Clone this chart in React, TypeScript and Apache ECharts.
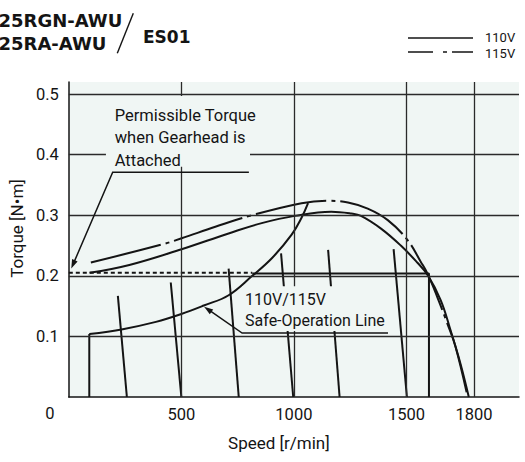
import React, { useEffect, useRef } from "react";
import * as echarts from "echarts";

// ---------- data (speed r/min, torque N·m) ----------
const speedLabelValues = [500, 1000, 1500, 1800];
const speedGridValues = [500, 1000, 1500, 1800];
const torqueGridValues = [0.1, 0.2, 0.3, 0.4, 0.5];
const originLabel = "0";

const torque110V: [number, number][] = [
  [92, 0.205], [269, 0.218], [501, 0.244], [710, 0.27], [857, 0.287],
  [1004, 0.299], [1166, 0.306], [1255, 0.303], [1298, 0.299], [1387, 0.278],
  [1475, 0.25], [1548, 0.222], [1593, 0.202], [1652, 0.16], [1696, 0.11],
  [1740, 0.055], [1777, 0],
];

const torque115V: [number, number][] = [
  [98, 0.222], [416, 0.252], [501, 0.262], [651, 0.281], [813, 0.3],
  [1034, 0.32], [1151, 0.324], [1240, 0.321], [1328, 0.311], [1417, 0.292],
  [1505, 0.259], [1564, 0.223], [1593, 0.204], [1637, 0.165], [1681, 0.122],
  [1718, 0.083], [1772, 0],
];

const safeOperationVertical: [number, number][] = [[91, 0], [91, 0.104]];
const safeOperationCurve: [number, number][] = [
  [91, 0.104], [240, 0.112], [387, 0.124], [500, 0.137], [600, 0.151],
  [710, 0.168], [815, 0.2], [902, 0.229], [990, 0.268], [1034, 0.296],
  [1063, 0.32],
];

const permissibleDotted: [number, number][] = [[0, 0.205], [815, 0.205]];
const permissibleSolid: [number, number][] = [[815, 0.204], [1600, 0.204], [1600, 0]];

const loadLines: [number, number][][] = [
  [[218, 0.167], [258, 0]],
  [[453, 0.189], [500, 0]],
  [[710, 0.212], [755, 0]],
  [[943, 0.237], [997, 0]],
  [[1152, 0.243], [1203, 0]],
  [[1443, 0.244], [1502, 0]],
];

// annotation anchors (data space)
const note1Lines = ["Permissible Torque", "when Gearhead is", "Attached"];
const note1Box: [number, number][] = [[165, 0.497], [805, 0.38]];
const note1Anchor: [number, number] = [204, 0.484];
const note1Leader: [number, number][] = [[800, 0.371], [195, 0.371], [11, 0.212]];

const note2Lines = ["110V/115V", "Safe-Operation Line"];
const note2Box: [number, number][] = [[770, 0.183], [1418, 0.109]];
const note2Anchor: [number, number] = [783, 0.178];
const note2Leader: [number, number][] = [[1418, 0.1056], [770, 0.1056], [601, 0.149]];

const legendNames = ["110V", "115V"];

// ---------- styles ----------
const INK = "#141414";
const GRID_INK = "#2a2a2a";
const PLOT_BG = "#f0f6f4";
const FONT = "Roboto, 'Liberation Sans', sans-serif";
const DASH_DOT = [72, 5, 4, 5];

function lineSeries(name: string, data: [number, number][], extra: any = {}) {
  return {
    name,
    type: "line",
    data,
    symbol: "none",
    silent: true,
    z: 3,
    lineStyle: { color: INK, width: 2, ...(extra.lineStyle || {}) },
    smooth: extra.smooth ?? false,
  };
}

const option: any = {
  animation: false,
  backgroundColor: "#ffffff",
  textStyle: { fontFamily: FONT },
  grid: {
    left: 66,
    right: 6,
    top: 82,
    bottom: 65,
    show: true,
    backgroundColor: PLOT_BG,
    borderWidth: 0,
  },
  xAxis: {
    type: "value",
    min: 0,
    max: 2000,
    name: "Speed [r/min]",
    nameLocation: "middle",
    nameGap: 37,
    nameTextStyle: { fontFamily: FONT, fontSize: 17, color: INK, padding: [0, 30, 0, 0] },
    axisLine: { show: true, lineStyle: { color: INK, width: 1.5 } },
    axisTick: { show: false },
    splitLine: { show: false },
    axisLabel: {
      customValues: speedLabelValues,
      fontFamily: FONT,
      fontSize: 16.5,
      color: INK,
      margin: 9,
      formatter: (v: number) => String(v),
    },
  },
  yAxis: {
    type: "value",
    min: 0,
    max: 0.52,
    name: "Torque [N•m]",
    nameLocation: "middle",
    nameGap: 40,
    nameTextStyle: { fontFamily: FONT, fontSize: 17, color: INK, padding: [0, 0, 0, 22] },
    axisLine: { show: true, lineStyle: { color: INK, width: 1.5 } },
    axisTick: { show: false },
    splitLine: { show: false },
    axisLabel: {
      customValues: torqueGridValues,
      fontFamily: FONT,
      fontSize: 16.5,
      color: INK,
      margin: 10,
      formatter: (v: number) => v.toFixed(1),
    },
  },
  series: [
    {
      name: "grid",
      type: "line",
      data: [],
      silent: true,
      z: 1,
      markLine: {
        silent: true,
        symbol: "none",
        label: { show: false },
        lineStyle: { color: GRID_INK, width: 1.3, type: "solid" },
        emphasis: { disabled: true },
        data: [
          ...speedGridValues.map((v) => ({ xAxis: v })),
          ...torqueGridValues.map((v) => ({ yAxis: v })),
        ],
      },
    },
    lineSeries("110V", torque110V, { smooth: 0.4 }),
    lineSeries("115V", torque115V, { smooth: 0.4, lineStyle: { type: DASH_DOT } }),
    lineSeries("safe-vertical", safeOperationVertical),
    lineSeries("safe-curve", safeOperationCurve, { smooth: 0.4 }),
    lineSeries("permissible-dotted", permissibleDotted, { lineStyle: { type: [4, 3] } }),
    lineSeries("permissible-solid", permissibleSolid),
    ...loadLines.map((l, i) => lineSeries("load" + i, l)),
  ],
};

export default function App() {
  const ref = useRef<HTMLDivElement>(null);
  useEffect(() => {
    if (!ref.current) return;
    const chart = echarts.init(ref.current, null, { renderer: "svg" });
    chart.setOption(option);
    const px = (p: [number, number]) => chart.convertToPixel({ gridIndex: 0 }, p) as number[];

    const textStyle = (text: string, x: number, y: number, size: number, extra: any = {}) => ({
      text,
      x,
      y,
      fill: INK,
      fontFamily: FONT,
      fontSize: size,
      ...extra,
    });

    const boxRect = (b: [number, number][]) => {
      const a = px(b[0]);
      const c = px(b[1]);
      return {
        type: "rect",
        z: 100,
        silent: true,
        shape: { x: a[0], y: a[1], width: c[0] - a[0], height: c[1] - a[1] },
        style: { fill: PLOT_BG },
      };
    };

    const leader = (pts: [number, number][]) => {
      const p = pts.map(px);
      const tip = p[p.length - 1];
      const from = p[p.length - 2];
      const dx = tip[0] - from[0];
      const dy = tip[1] - from[1];
      const len = Math.hypot(dx, dy);
      const ux = dx / len;
      const uy = dy / len;
      const L = 9;
      const W = 3;
      const bx = tip[0] - ux * L;
      const by = tip[1] - uy * L;
      return [
        {
          type: "polyline",
          z: 101,
          silent: true,
          shape: { points: p.slice(0, -1).concat([[bx + ux * 2, by + uy * 2]]) },
          style: { stroke: INK, lineWidth: 1.5, fill: "none" },
        },
        {
          type: "polygon",
          z: 101,
          silent: true,
          shape: {
            points: [tip, [bx - uy * W, by + ux * W], [bx + uy * W, by - ux * W]],
          },
          style: { fill: INK },
        },
      ];
    };

    const noteText = (lines: string[], anchor: [number, number], lh: number, size: number) => {
      const a = px(anchor);
      return {
        type: "text",
        z: 102,
        silent: true,
        style: textStyle(lines.join("\n"), a[0], a[1], size, {
          lineHeight: lh,
          align: "left",
          verticalAlign: "top",
        }),
      };
    };

    const origin = px([0, 0]);
    const titleFont = "'DejaVu Sans', sans-serif";

    const graphic: any[] = [
      // title
      {
        type: "text",
        z: 102,
        style: {
          text: "25RGN-AWU", x: -1.5, y: 20, fill: INK, fontFamily: titleFont,
          fontWeight: "bold", fontSize: 18, verticalAlign: "middle",
        },
      },
      {
        type: "text",
        z: 102,
        style: {
          text: "25RA-AWU", x: -1.5, y: 43.5, fill: INK, fontFamily: titleFont,
          fontWeight: "bold", fontSize: 18, verticalAlign: "middle",
        },
      },
      {
        type: "line",
        z: 102,
        shape: { x1: 133.3, y1: 13.3, x2: 117.3, y2: 53.3 },
        style: { stroke: INK, lineWidth: 1.4 },
      },
      {
        type: "text",
        z: 102,
        style: {
          text: "ES01", x: 143, y: 36.5, fill: INK, fontFamily: titleFont,
          fontWeight: "bold", fontSize: 17, verticalAlign: "middle",
        },
      },
      // legend
      {
        type: "line",
        z: 102,
        shape: { x1: 408, y1: 38, x2: 473, y2: 38 },
        style: { stroke: INK, lineWidth: 1.5 },
      },
      {
        type: "line",
        z: 102,
        shape: { x1: 408, y1: 52, x2: 473, y2: 52 },
        style: { stroke: INK, lineWidth: 1.5, lineDash: [25, 10, 4, 5] },
      },
      { type: "text", z: 102, style: textStyle(legendNames[0], 485, 37, 13, { verticalAlign: "middle" }) },
      { type: "text", z: 102, style: textStyle(legendNames[1], 485, 53, 13, { verticalAlign: "middle" }) },
      // origin label
      {
        type: "text",
        z: 102,
        style: textStyle(originLabel, origin[0] - 19, origin[1] + 16, 16.5, {
          align: "center",
          verticalAlign: "middle",
        }),
      },
      // annotations
      boxRect(note1Box),
      noteText(note1Lines, note1Anchor, 22.5, 16.5),
      ...leader(note1Leader),
      boxRect(note2Box),
      noteText(note2Lines, note2Anchor, 21, 16),
      ...leader(note2Leader),
    ];
    chart.setOption({ graphic });
    return () => chart.dispose();
  }, []);
  return (
    <div
      ref={ref}
      style={{ position: "absolute", left: 0, top: 0, width: 525, height: 462 }}
    />
  );
}
